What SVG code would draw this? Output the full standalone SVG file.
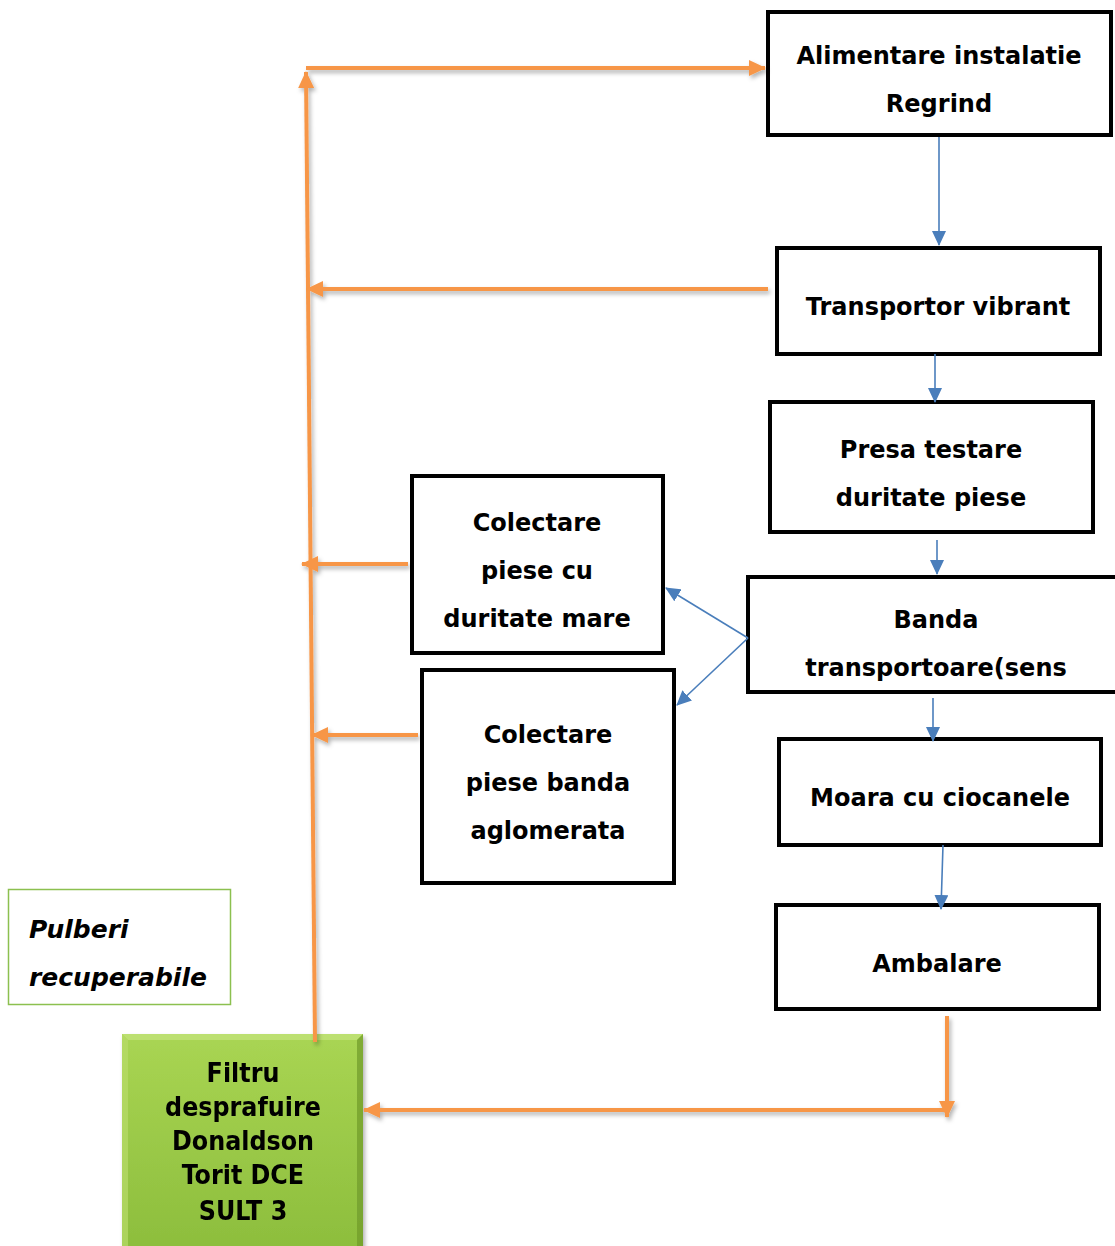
<svg xmlns="http://www.w3.org/2000/svg" width="1115" height="1246" viewBox="0 0 1115 1246">
<style>
.box{fill:#fff;stroke:#000;stroke-width:4}
.t{font-family:"DejaVu Sans","Liberation Sans",sans-serif;font-weight:bold;font-size:24px;fill:#000;text-anchor:middle}
.tg{font-family:"DejaVu Sans Condensed","DejaVu Sans",sans-serif;font-weight:bold;font-size:26.5px;fill:#000;text-anchor:middle}
.ti{font-family:"DejaVu Sans","Liberation Sans",sans-serif;font-weight:bold;font-style:italic;font-size:25px;fill:#000}
.blue{stroke:#4a7ebb;stroke-width:1.6;fill:none}
.or{stroke:#f79646;stroke-width:4;fill:none}
</style>
<defs>
<marker id="ab" markerUnits="userSpaceOnUse" markerWidth="16" markerHeight="14" refX="14" refY="7" orient="auto"><path d="M0,0 L15,7 L0,14 Z" fill="#4a7ebb"/></marker>
<marker id="ao" markerUnits="userSpaceOnUse" markerWidth="18" markerHeight="18" refX="16" refY="9" orient="auto"><path d="M0,1 L17,9 L0,17 Z" fill="#f79646"/></marker>
<filter id="sh" x="-20%" y="-20%" width="140%" height="140%"><feDropShadow dx="2" dy="3" stdDeviation="2" flood-color="#000" flood-opacity="0.3"/></filter>
<linearGradient id="gg" x1="0" y1="0" x2="0" y2="1"><stop offset="0" stop-color="#a9d553"/><stop offset="1" stop-color="#8cbd3c"/></linearGradient>
</defs>
<g id="n1"><rect class="box" x="768" y="12" width="343" height="123"/><text class="t" x="939" y="64">Alimentare instalatie</text><text class="t" x="939" y="112">Regrind</text></g>
<g id="n2"><rect class="box" x="777" y="248" width="323" height="106"/><text class="t" x="938" y="315">Transportor vibrant</text></g>
<g id="n3"><rect class="box" x="770" y="402" width="323" height="130"/><text class="t" x="931" y="458">Presa testare</text><text class="t" x="931" y="506">duritate piese</text></g>
<g id="n4"><rect class="box" x="748" y="577" width="380" height="115"/><text class="t" x="936" y="628">Banda</text><text class="t" x="936" y="676">transportoare(sens</text></g>
<g id="n5"><rect class="box" x="779" y="739" width="322" height="106"/><text class="t" x="940" y="806">Moara cu ciocanele</text></g>
<g id="n6"><rect class="box" x="776" y="905" width="323" height="104"/><text class="t" x="937" y="972">Ambalare</text></g>
<g id="n7"><rect class="box" x="412" y="476" width="251" height="177"/><text class="t" x="537" y="531">Colectare</text><text class="t" x="537" y="579">piese cu</text><text class="t" x="537" y="627">duritate mare</text></g>
<g id="n8"><rect class="box" x="422" y="670" width="252" height="213"/><text class="t" x="548" y="743">Colectare</text><text class="t" x="548" y="791">piese banda</text><text class="t" x="548" y="839">aglomerata</text></g>
<g id="n9"><rect x="8.5" y="889.5" width="222" height="115" fill="#fff" stroke="#8cc04f" stroke-width="1.5"/><text class="ti" x="29" y="938">Pulberi</text><text class="ti" x="29" y="986">recuperabile</text></g>
<g id="n10" filter="url(#sh)"><rect x="122" y="1034" width="241" height="220" fill="url(#gg)"/><path d="M122,1034 L363,1034 L357,1040 L128,1040 Z" fill="#c4e47f" opacity="0.7"/><path d="M122,1034 L128,1040 L128,1246 L122,1246 Z" fill="#b8dc6a" opacity="0.7"/><path d="M363,1034 L357,1040 L357,1246 L363,1246 Z" fill="#6f9a2a" opacity="0.7"/><text class="tg" x="243" y="1082">Filtru</text><text class="tg" x="243" y="1116">desprafuire</text><text class="tg" x="243" y="1150">Donaldson</text><text class="tg" x="243" y="1184">Torit DCE</text><text class="tg" x="243" y="1220">SULT 3</text></g>
<g id="connectors">
<line class="blue" x1="939" y1="137" x2="939" y2="245" marker-end="url(#ab)"/>
<line class="blue" x1="935" y1="354" x2="935" y2="402" marker-end="url(#ab)"/>
<line class="blue" x1="937" y1="540" x2="937" y2="574" marker-end="url(#ab)"/>
<line class="blue" x1="748" y1="638" x2="666" y2="588" marker-end="url(#ab)"/>
<line class="blue" x1="748" y1="638" x2="677" y2="705" marker-end="url(#ab)"/>
<line class="blue" x1="933" y1="698" x2="933" y2="741" marker-end="url(#ab)"/>
<line class="blue" x1="943" y1="845" x2="941" y2="909" marker-end="url(#ab)"/>
<g filter="url(#sh)">
<line class="or" x1="315" y1="1042" x2="306" y2="72" marker-end="url(#ao)"/>
<line class="or" x1="306" y1="68" x2="765" y2="68" marker-end="url(#ao)"/>
<line class="or" x1="768" y1="289" x2="307" y2="289" marker-end="url(#ao)"/>
<line class="or" x1="408" y1="564" x2="302" y2="564" marker-end="url(#ao)"/>
<line class="or" x1="418" y1="735" x2="312" y2="735" marker-end="url(#ao)"/>
<line class="or" x1="947" y1="1016" x2="947" y2="1117" marker-end="url(#ao)"/>
<line class="or" x1="947" y1="1110" x2="364" y2="1110" marker-end="url(#ao)"/>
</g>
</g>
</svg>
